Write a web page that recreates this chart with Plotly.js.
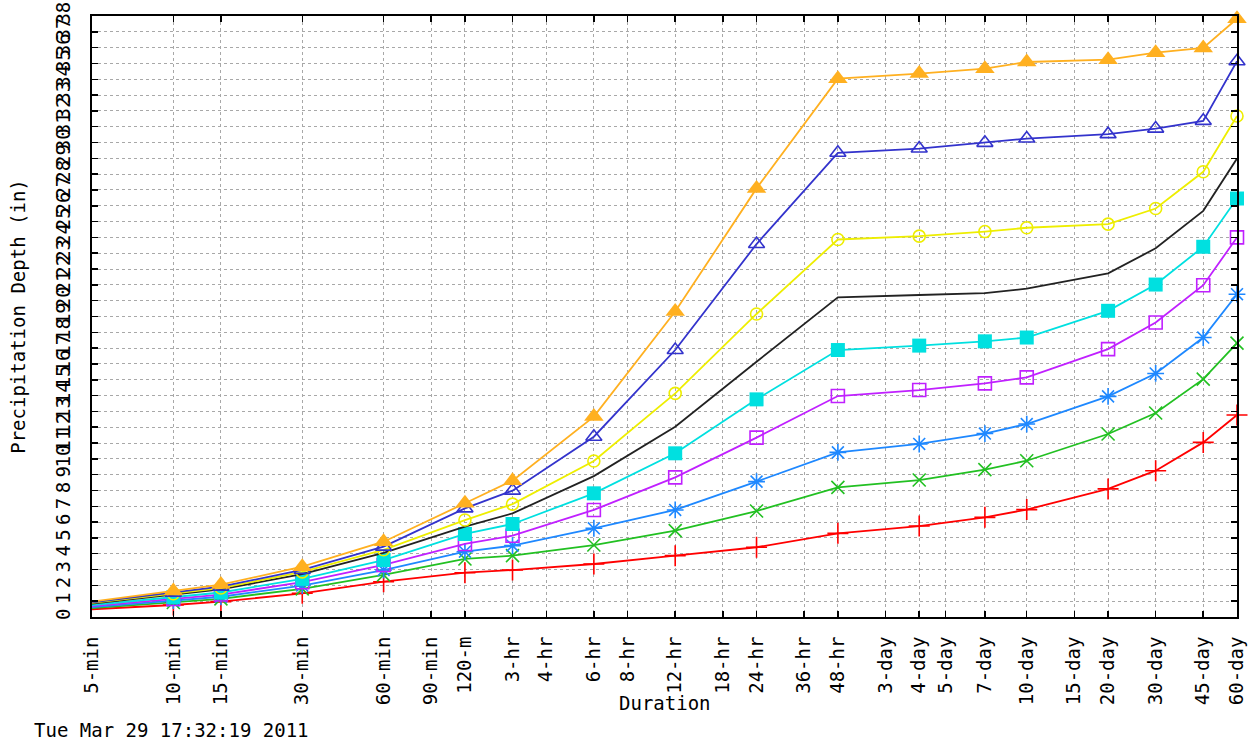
<!DOCTYPE html>
<html>
<head>
<meta charset="utf-8">
<script src="https://cdn.plot.ly/plotly-3.0.1.min.js"></script>
<style>
  html, body { margin: 0; padding: 0; background: #ffffff; }
  #chart { width: 1249px; height: 740px; }
</style>
</head>
<body>
<div id="chart"></div>
<script>
// Durations (minutes) at which depths are given
const durationsMin = [5, 10, 15, 30, 60, 120, 180, 360, 720, 1440, 2880, 5760, 10080, 14400, 28800, 43200, 64800, 86400];

// Axis ticks
const tickMinutes = [5, 10, 15, 30, 60, 90, 120, 180, 240, 360, 480, 720, 1080, 1440, 2160, 2880, 4320, 5760, 7200, 10080, 14400, 21600, 28800, 43200, 64800, 86400];
const tickLabels = ["5-min", "10-min", "15-min", "30-min", "60-min", "90-min", "120-m", "3-hr", "4-hr", "6-hr", "8-hr", "12-hr", "18-hr", "24-hr", "36-hr", "48-hr", "3-day", "4-day", "5-day", "7-day", "10-day", "15-day", "20-day", "30-day", "45-day", "60-day"];

// Precipitation depth (in), one array per curve
const seriesRed     = [0.49, 0.76, 0.97, 1.50, 2.23, 2.80, 2.97, 3.35, 3.88, 4.41, 5.29, 5.75, 6.30, 6.79, 8.10, 9.25, 11.04, 12.77];
const seriesGreen   = [0.56, 0.92, 1.15, 1.78, 2.66, 3.67, 3.88, 4.55, 5.46, 6.70, 8.20, 8.66, 9.32, 9.88, 11.57, 12.90, 15.04, 17.32];
const seriesBlue    = [0.62, 1.03, 1.28, 1.99, 2.97, 4.13, 4.51, 5.61, 6.77, 8.56, 10.41, 10.94, 11.60, 12.20, 13.95, 15.40, 17.67, 20.41];
const seriesMagenta = [0.69, 1.14, 1.42, 2.20, 3.29, 4.62, 5.14, 6.77, 8.83, 11.34, 13.97, 14.35, 14.77, 15.15, 16.94, 18.62, 20.98, 24.00];
const seriesCyan    = [0.76, 1.25, 1.55, 2.41, 3.60, 5.25, 5.88, 7.82, 10.35, 13.76, 16.88, 17.16, 17.43, 17.67, 19.36, 21.02, 23.41, 26.46];
const seriesBlack   = [0.85, 1.40, 1.75, 2.71, 4.05, 5.71, 6.55, 8.91, 12.03, 16.14, 20.21, 20.36, 20.48, 20.76, 21.73, 23.31, 25.68, 28.99];
const seriesYellow  = [0.89, 1.47, 1.83, 2.85, 4.25, 6.13, 7.14, 9.86, 14.14, 19.16, 23.87, 24.08, 24.37, 24.61, 24.84, 25.83, 28.15, 31.68];
const seriesNavy    = [0.93, 1.54, 1.92, 2.98, 4.45, 6.87, 7.99, 11.40, 16.88, 23.58, 29.35, 29.62, 29.98, 30.25, 30.53, 30.88, 31.37, 35.14];
const seriesOrange  = [0.97, 1.64, 2.05, 3.18, 4.76, 7.19, 8.62, 12.67, 19.31, 27.10, 34.04, 34.36, 34.67, 35.09, 35.24, 35.68, 35.98, 37.83];

const yMax = 38;
const yTicks = [];
for (let v = 0; v <= yMax; v++) yTicks.push(v);

const FONT = "DejaVu Sans Mono, Liberation Mono, monospace";

function mk(y, color, symbol, size, filled) {
  const t = {
    type: "scatter",
    x: durationsMin,
    y: y,
    mode: symbol ? "lines+markers" : "lines",
    line: { color: color, width: 1.8 },
    cliponaxis: false,
    hoverinfo: "x+y",
    showlegend: false
  };
  if (symbol) {
    t.marker = {
      symbol: symbol,
      size: size,
      color: color,
      line: { color: color, width: filled ? 0 : 1.6 }
    };
  }
  return t;
}

const traces = [
  mk(seriesRed,     "#ff0000", "cross-thin-open", 15, false),
  mk(seriesGreen,   "#22c022", "x-thin-open", 13, false),
  mk(seriesBlue,    "#1e88ff", "asterisk-open", 14, false),
  mk(seriesMagenta, "#c020ff", "square-open", 13, false),
  mk(seriesCyan,    "#00e0e0", "square", 14, true),
  mk(seriesBlack,   "#222222", null, 0, false),
  mk(seriesYellow,  "#eeee00", "circle-open", 12, false),
  mk(seriesNavy,    "#3333cc", "triangle-up-open", 14, false),
  mk(seriesOrange,  "#ffb020", "triangle-up", 17, true)
];

const layout = {
  width: 1249,
  height: 740,
  paper_bgcolor: "#ffffff",
  plot_bgcolor: "#ffffff",
  margin: { l: 92, r: 12, t: 16, b: 123, pad: 0 },
  font: { family: FONT, size: 19, color: "#000000" },
  showlegend: false,
  xaxis: {
    type: "log",
    range: [Math.log10(tickMinutes[0]), Math.log10(tickMinutes[tickMinutes.length - 1])],
    tickmode: "array",
    tickvals: tickMinutes,
    ticktext: tickLabels,
    tickangle: -90,
    ticks: "inside",
    ticklen: 6,
    tickwidth: 1.5,
    tickcolor: "#000000",
    ticklabelstandoff: 10,
    showline: true,
    linecolor: "#000000",
    linewidth: 2,
    mirror: "ticks",
    showgrid: true,
    gridcolor: "#a8a8a8",
    gridwidth: 1,
    griddash: "3px,3px",
    zeroline: false,
    automargin: false,
    tickfont: { family: FONT, size: 19, color: "#000000" }
  },
  yaxis: {
    range: [0, yMax],
    tickmode: "array",
    tickvals: yTicks,
    ticktext: yTicks.map(String),
    tickangle: -90,
    ticks: "inside",
    ticklen: 6,
    tickwidth: 1.5,
    tickcolor: "#000000",
    ticklabelstandoff: 12,
    showline: true,
    linecolor: "#000000",
    linewidth: 2,
    mirror: "ticks",
    showgrid: true,
    gridcolor: "#a8a8a8",
    gridwidth: 1,
    griddash: "3px,3px",
    zeroline: false,
    automargin: false,
    tickfont: { family: FONT, size: 19, color: "#000000" },
    title: { text: "Precipitation Depth (in)", font: { family: FONT, size: 19, color: "#000000" }, standoff: 22 }
  },
  annotations: [
    {
      text: "Duration",
      xref: "paper", yref: "paper",
      x: 0.5, y: -0.143,
      xanchor: "center", yanchor: "middle",
      showarrow: false,
      font: { family: FONT, size: 19, color: "#000000" }
    },
    {
      text: "Tue Mar 29 17:32:19 2011",
      xref: "paper", yref: "paper",
      x: -0.0524, y: -0.188,
      xanchor: "left", yanchor: "middle",
      showarrow: false,
      font: { family: FONT, size: 19, color: "#000000" }
    }
  ]
};

Plotly.newPlot("chart", traces, layout, { displayModeBar: false, staticPlot: true });
</script>
</body>
</html>
